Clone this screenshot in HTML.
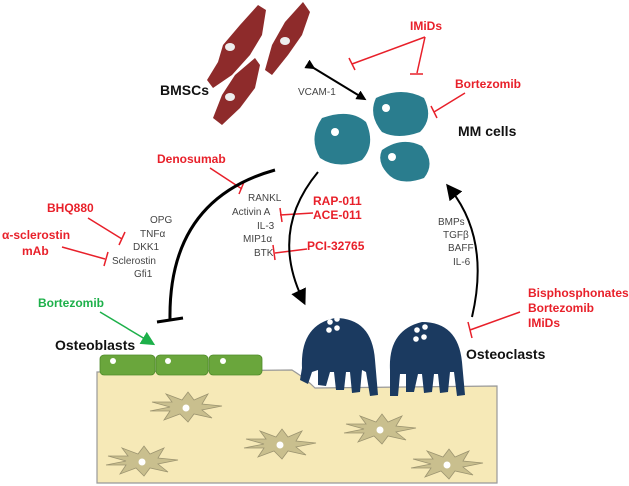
<!DOCTYPE html>
<html><head><meta charset="utf-8"><style>
body{margin:0;background:#fff}
svg{display:block;font-family:"Liberation Sans",sans-serif}
.r{fill:#e8202a;font-weight:bold;font-size:12px}
.g{fill:#444;font-size:10px}
.b{fill:#111;font-weight:bold;font-size:14px}
</style></head><body>
<svg width="629" height="486" viewBox="0 0 629 486">
<defs>
<g id="star"><polygon points="-34,-6 -14,-6 -20,-14 -4,-8 2,-16 8,-8 22,-14 16,-4 36,-2 16,2 26,10 8,6 2,14 -6,6 -22,12 -16,3 -36,3 -16,-1" fill="#c9bf8e" stroke="#9c9470" stroke-width="0.8"/><circle r="3.5" fill="#fff"/></g>
<marker id="ah" markerWidth="10" markerHeight="10" refX="6" refY="5" orient="auto" markerUnits="userSpaceOnUse"><path d="M0,0L10,5L0,10z" fill="#000"/></marker>
<marker id="ah2" markerWidth="16" markerHeight="16" refX="8" refY="8" orient="auto" markerUnits="userSpaceOnUse"><path d="M0,0L16,8L0,16z" fill="#000"/></marker>
<marker id="ahg" markerWidth="14" markerHeight="14" refX="8" refY="7" orient="auto" markerUnits="userSpaceOnUse"><path d="M0,0L14,7L0,14z" fill="#1db04a"/></marker>
</defs>
<!-- bone -->
<path d="M97,372 L292,370 Q305,378 315,388 L497,386 L497,483 L97,483 Z" fill="#f6e9b7" stroke="#999" stroke-width="1.2"/>
<use href="#star" x="186" y="408"/>
<use href="#star" x="280" y="445"/>
<use href="#star" x="142" y="462"/>
<use href="#star" x="380" y="430"/>
<use href="#star" x="447" y="465"/>
<!-- osteoblasts -->
<g fill="#6aa63c" stroke="#4f8a2a" stroke-width="0.8">
<rect x="100" y="355" width="55" height="20" rx="4"/>
<rect x="156" y="355" width="52" height="20" rx="4"/>
<rect x="209" y="355" width="53" height="20" rx="4"/>
</g>
<g fill="#fff"><circle cx="113" cy="361" r="3"/><circle cx="168" cy="361" r="3"/><circle cx="223" cy="361" r="3"/></g>
<!-- BMSCs -->
<g fill="#8e2b2b">
<path d="M258,5 L266,10 L262,35 L250,55 L232,75 L213,88 L207,80 L218,62 L223,45 L240,25 Z"/>
<path d="M303,2 L310,12 L302,35 L288,55 L272,75 L265,70 L272,45 L285,22 Z"/>
<path d="M255,58 L260,65 L255,88 L240,108 L222,125 L213,118 L222,95 L235,75 Z"/>
</g>
<g fill="#eee"><ellipse cx="230" cy="47" rx="5" ry="4"/><ellipse cx="285" cy="41" rx="5" ry="4"/><ellipse cx="230" cy="97" rx="5" ry="4"/></g>
<text class="b" x="160" y="95" font-size="13">BMSCs</text>
<!-- VCAM -->
<line x1="312" y1="67" x2="363" y2="98" stroke="#000" stroke-width="2" marker-start="url(#ah)" marker-end="url(#ah)"/>
<text class="g" x="298" y="95">VCAM-1</text>
<!-- MM cells -->
<g fill="#2a7d8e">
<path d="M322,118 Q350,108 366,122 Q376,145 362,160 Q338,170 320,158 Q308,138 322,118Z"/>
<path d="M376,98 Q402,86 424,98 Q434,118 420,132 Q398,140 382,132 Q368,115 376,98Z"/>
<path d="M382,150 Q402,136 422,146 Q436,163 424,178 Q402,186 390,176 Q376,163 382,150Z"/>
</g>
<g fill="#fff"><circle cx="335" cy="132" r="4"/><circle cx="386" cy="108" r="4"/><circle cx="392" cy="157" r="4"/></g>
<text class="b" x="458" y="136" font-size="13">MM cells</text>
<!-- IMiDs -->
<text class="r" x="410" y="30">IMiDs</text>
<g stroke="#e8202a" stroke-width="1.5" fill="none">
<path d="M425,37 L352,64 M349,58 L355,70"/>
<path d="M425,37 L417,73 M410,74 L423,74"/>
<path d="M465,93 L434,112 M431,106 L437,118"/>
</g>
<text class="r" x="455" y="88">Bortezomib</text>
<!-- Denosumab -->
<text class="r" x="157" y="163">Denosumab</text>
<g stroke="#e8202a" stroke-width="1.5" fill="none">
<path d="M210,168 L242,189 M244,182 L239,194"/>
<path d="M88,218 L122,239 M125,232 L119,245"/>
<path d="M62,247 L105,259 M108,252 L104,266"/>
<path d="M313,213 L280,215 M280,208 L282,222"/>
<path d="M307,249 L275,253 M273,245 L275,260"/>
<path d="M520,312 L470,330 M468,322 L472,338"/>
</g>
<!-- arcs -->
<path d="M275,170 Q168,200 170,320" stroke="#000" stroke-width="3" fill="none"/>
<line x1="157" y1="322" x2="183" y2="318" stroke="#000" stroke-width="3"/>
<path d="M318,172 Q270,230 302,298" stroke="#000" stroke-width="2" fill="none" marker-end="url(#ah2)"/>
<path d="M472,317 Q490,240 451,190" stroke="#000" stroke-width="2" fill="none" marker-end="url(#ah2)"/>
<!-- text lists -->
<g class="g">
<text x="248" y="201">RANKL</text>
<text x="232" y="215">Activin A</text>
<text x="257" y="229">IL-3</text>
<text x="243" y="242">MIP1α</text>
<text x="254" y="256">BTK</text>
<text x="150" y="223">OPG</text>
<text x="140" y="237">TNFα</text>
<text x="133" y="250">DKK1</text>
<text x="112" y="264">Sclerostin</text>
<text x="134" y="277">Gfi1</text>
<text x="438" y="225">BMPs</text>
<text x="443" y="238">TGFβ</text>
<text x="448" y="251">BAFF</text>
<text x="453" y="265">IL-6</text>
</g>
<text class="r" x="47" y="212">BHQ880</text>
<text class="r" x="2" y="239">α-sclerostin</text>
<text class="r" x="22" y="255">mAb</text>
<text class="r" x="313" y="205">RAP-011</text>
<text class="r" x="313" y="219">ACE-011</text>
<text class="r" x="307" y="250">PCI-32765</text>
<text class="r" x="528" y="297">Bisphosphonates</text>
<text class="r" x="528" y="312">Bortezomib</text>
<text class="r" x="528" y="327">IMiDs</text>
<!-- green -->
<text x="38" y="307" fill="#1db04a" font-weight="bold" font-size="12">Bortezomib</text>
<line x1="100" y1="312" x2="150" y2="342" stroke="#1db04a" stroke-width="1.5" marker-end="url(#ahg)"/>
<text class="b" x="55" y="350">Osteoblasts</text>
<!-- osteoclasts -->
<g fill="#1b3a60">
<path d="M302,368 Q300,325 335,318 Q372,318 375,360 L378,395 L370,396 L366,372 L362,370 L360,392 L352,393 L350,372 L346,372 L344,390 L336,390 L334,372 L330,372 L326,386 L318,385 L318,370 L312,372 L308,384 L300,380 Z"/>
<path d="M390,370 Q388,330 422,322 Q458,322 462,362 L465,395 L457,396 L454,372 L450,372 L448,392 L440,393 L438,374 L434,374 L432,392 L424,393 L422,374 L418,374 L414,392 L406,392 L406,374 L400,374 L398,396 L390,396 Z"/>
</g>
<g fill="#fff"><circle cx="330" cy="322" r="2.8"/><circle cx="337" cy="319" r="2.8"/><circle cx="329" cy="330" r="2.8"/><circle cx="337" cy="328" r="2.8"/>
<circle cx="417" cy="330" r="2.8"/><circle cx="425" cy="327" r="2.8"/><circle cx="416" cy="339" r="2.8"/><circle cx="424" cy="337" r="2.8"/></g>
<text class="b" x="466" y="359">Osteoclasts</text>
</svg>
</body></html>
